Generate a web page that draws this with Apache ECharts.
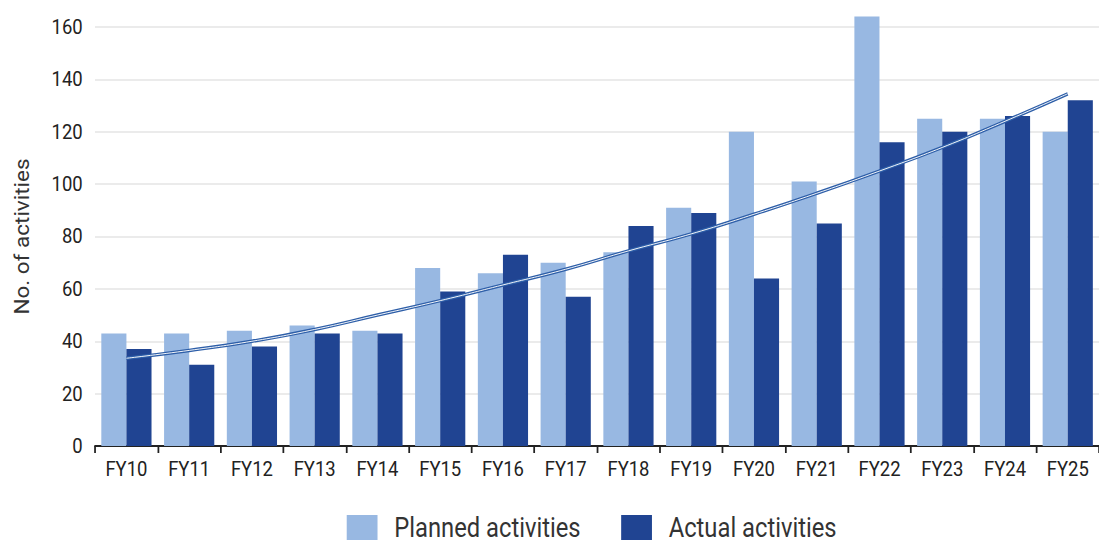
<!DOCTYPE html>
<html>
<head>
<meta charset="utf-8">
<script src="https://cdn.jsdelivr.net/npm/echarts@6/dist/echarts.min.js"></script>
<style>
  html, body { margin: 0; padding: 0; background: #fff; overflow: hidden; }
  /* The chart is laid out wider and narrowed horizontally, which gives the
     labels their tall, condensed look. */
  #chart { width: 1249px; height: 543px; transform: scaleX(0.88); transform-origin: 0 0; }
</style>
</head>
<body>
<div id="chart"></div>
<script>
// Fiscal years on the category axis
const categories = ['FY10','FY11','FY12','FY13','FY14','FY15','FY16','FY17','FY18','FY19','FY20','FY21','FY22','FY23','FY24','FY25'];
// Activities planned and delivered per year
const planned = [43, 43, 44, 46, 44, 68, 66, 70, 74, 91, 120, 101, 164, 125, 125, 120];
const actual  = [37, 31, 38, 43, 43, 59, 73, 57, 84, 89, 64, 85, 116, 120, 126, 132];
// Trend curve through the yearly totals
const trend   = [33.5, 36.5, 40, 44.5, 50, 55.5, 61.5, 67.5, 74.5, 81, 88.5, 96.5, 105, 114, 124, 134.5];
// Value-axis ticks
const yTicks = [0, 20, 40, 60, 80, 100, 120, 140, 160];

const FONT = 'Roboto, "Liberation Sans", sans-serif';
const chart = echarts.init(document.getElementById('chart'), null, { renderer: 'svg' });

chart.setOption({
  animation: false,
  backgroundColor: '#ffffff',
  textStyle: { fontFamily: FONT },
  grid: { left: 108, right: 0, top: 27, bottom: 97, containLabel: false },
  legend: {
    data: ['Planned activities', 'Actual activities'],
    left: 394,
    top: 514,
    padding: 0,
    itemWidth: 35,
    itemHeight: 25,
    itemGap: 46,
    icon: 'rect',
    textStyle: { fontFamily: FONT, fontSize: 27, lineHeight: 22, color: '#333333', padding: [0, 0, 0, 14] }
  },
  xAxis: {
    type: 'category',
    data: categories,
    axisLine: { show: true, lineStyle: { color: '#222222', width: 2 } },
    axisTick: { show: true, alignWithLabel: false, length: 7, lineStyle: { color: '#222222', width: 2 } },
    axisLabel: { color: '#222222', fontSize: 21, margin: 13, fontFamily: FONT },
    splitLine: { show: false }
  },
  yAxis: {
    type: 'value',
    min: yTicks[0],
    max: yTicks[yTicks.length - 1],
    interval: 20,
    name: 'No. of activities',
    nameLocation: 'middle',
    nameGap: 71,
    nameTextStyle: { fontSize: 22.5, color: '#333333', fontFamily: FONT },
    axisLine: { show: false },
    axisTick: { show: false },
    axisLabel: { color: '#222222', fontSize: 21, margin: 14, fontFamily: FONT },
    splitLine: { show: true, lineStyle: { color: '#e4e4e4', width: 1.5 } }
  },
  series: [
    {
      name: 'Planned activities',
      type: 'bar',
      data: planned,
      barGap: '0%',
      barCategoryGap: '20%',
      clip: false,
      itemStyle: { color: '#98b8e2' }
    },
    {
      name: 'Actual activities',
      type: 'bar',
      data: actual,
      clip: false,
      itemStyle: { color: '#204492' }
    },
    {
      name: 'Trend',
      type: 'line',
      data: trend,
      smooth: true,
      symbol: 'none',
      z: 5,
      lineStyle: { color: '#2d5ea8', width: 3.5 }
    },
    {
      name: 'Trend highlight',
      type: 'line',
      data: trend,
      smooth: true,
      symbol: 'none',
      z: 6,
      lineStyle: { color: '#ffffff', width: 1 }
    }
  ]
});
</script>
</body>
</html>
